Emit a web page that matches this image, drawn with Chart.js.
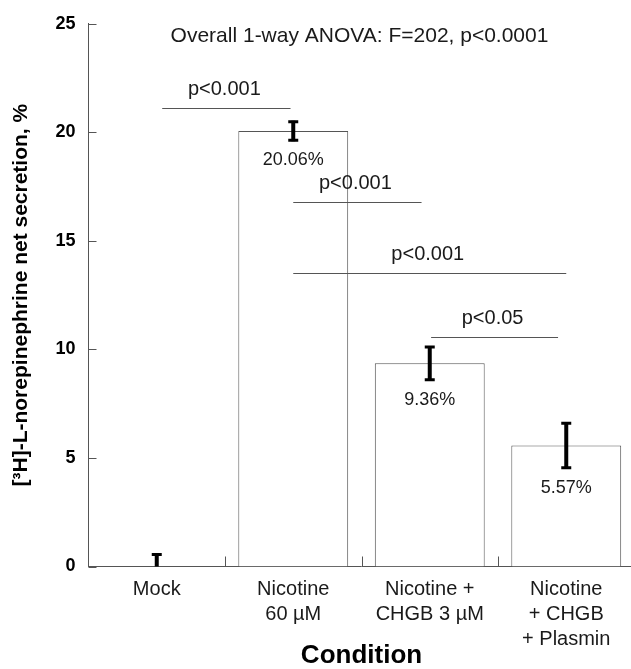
<!DOCTYPE html>
<html>
<head>
<meta charset="utf-8">
<script src="https://cdn.jsdelivr.net/npm/chart.js@4.4.1/dist/chart.umd.min.js"></script>
<style>
  html, body { margin: 0; padding: 0; background: #fff; }
  #wrap { width: 631px; height: 669px; overflow: hidden; }
  canvas { display: block; }
</style>
</head>
<body>
<div id="wrap"><canvas id="secretionChart" width="636" height="669"></canvas></div>
<script>
// data
const conditions = [['Mock'], ['Nicotine', '60 µM'], ['Nicotine +', 'CHGB 3 µM'], ['Nicotine', '+ CHGB', '+ Plasmin']];
const secretion = [0, 20.06, 9.36, 5.57];
const secretionErr = [0.6, 0.47, 0.8, 1.07];
const valueLabels = ['', '20.06%', '9.36%', '5.57%'];
const yMax = 25;
const yStep = 5;

// pairwise comparisons: category span (in category units) and bracket height (in %)
const sigFrom = [0.04, 1, 1, 2.01];
const sigTo = [0.98, 1.94, 3, 2.94];
const sigLevel = [21.1, 16.8, 13.5, 10.55];
const sigText = ['p<0.001', 'p<0.001', 'p<0.001', 'p<0.05'];

const anovaText = 'Overall 1-way ANOVA: F=202, p<0.0001';

const FONT = 'Liberation Sans, Arial, sans-serif';
const AXIS_GREY = '#555555';
const INK = '#1a1a1a';

Chart.defaults.font.family = FONT;
Chart.defaults.color = INK;

const annotations = {
    id: 'annotations',
    afterDraw(chart) {
        const { ctx, chartArea, scales: { x, y } } = chart;
        ctx.save();

        // inward tick marks on both axes
        ctx.strokeStyle = AXIS_GREY;
        ctx.lineWidth = 1;
        ctx.beginPath();
        for (let v = 0; v <= yMax; v += yStep) {
            const py = Math.round(y.getPixelForValue(v)) + 0.5;
            ctx.moveTo(chartArea.left, py);
            ctx.lineTo(chartArea.left + 8, py);
        }
        for (let i = 1; i <= conditions.length; i++) {
            const px = Math.round(x.getPixelForValue(i - 0.5)) + 0.5;
            ctx.moveTo(px, chartArea.bottom);
            ctx.lineTo(px, chartArea.bottom - 10);
        }
        ctx.stroke();

        // error bars, clipped to the plot
        ctx.save();
        ctx.beginPath();
        ctx.rect(chartArea.left, chartArea.top, chartArea.right - chartArea.left, chartArea.bottom - chartArea.top);
        ctx.clip();
        ctx.strokeStyle = '#000';
        secretion.forEach((v, i) => {
            const px = x.getPixelForValue(i);
            const top = y.getPixelForValue(v + secretionErr[i]);
            const bot = y.getPixelForValue(v - secretionErr[i]);
            ctx.lineWidth = 4;
            ctx.beginPath();
            ctx.moveTo(px, top);
            ctx.lineTo(px, bot);
            ctx.stroke();
            ctx.lineWidth = 3;
            ctx.beginPath();
            ctx.moveTo(px - 5, top + 1);
            ctx.lineTo(px + 5, top + 1);
            ctx.moveTo(px - 5, bot - 1);
            ctx.lineTo(px + 5, bot - 1);
            ctx.stroke();
        });
        ctx.restore();

        // value labels under the error bars
        ctx.fillStyle = INK;
        ctx.textAlign = 'center';
        ctx.textBaseline = 'middle';
        ctx.font = '18px ' + FONT;
        valueLabels.forEach((label, i) => {
            if (!label) return;
            const bot = y.getPixelForValue(secretion[i] - secretionErr[i]);
            ctx.fillText(label, x.getPixelForValue(i), bot + 19);
        });

        // significance brackets
        ctx.font = '20px ' + FONT;
        ctx.strokeStyle = AXIS_GREY;
        ctx.lineWidth = 1;
        sigText.forEach((text, i) => {
            const x1 = x.getPixelForValue(sigFrom[i]);
            const x2 = x.getPixelForValue(sigTo[i]);
            const py = Math.round(y.getPixelForValue(sigLevel[i])) + 0.5;
            ctx.beginPath();
            ctx.moveTo(x1, py);
            ctx.lineTo(x2, py);
            ctx.stroke();
            ctx.fillText(text, (x1 + x2) / 2 - 2, py - 19);
        });

        // overall test, inside the plot area
        ctx.font = '21px ' + FONT;
        ctx.fillText(anovaText, (chartArea.left + chartArea.right) / 2 - 2, chartArea.top + 12);

        ctx.restore();
    }
};

new Chart(document.getElementById('secretionChart'), {
    type: 'bar',
    data: {
        labels: conditions,
        datasets: [{
            data: secretion,
            backgroundColor: '#ffffff',
            borderColor: AXIS_GREY,
            borderWidth: 1,
            barPercentage: 0.805,
            categoryPercentage: 1
        }]
    },
    options: {
        responsive: false,
        animation: false,
        devicePixelRatio: 1,
        layout: { padding: { top: 18.5, right: 1.5, left: 0, bottom: 0 } },
        plugins: {
            legend: { display: false },
            tooltip: { enabled: false }
        },
        scales: {
            x: {
                grid: { display: false, drawTicks: false },
                border: { color: AXIS_GREY, width: 1 },
                ticks: {
                    color: INK,
                    font: { size: 20, lineHeight: 1.25 },
                    padding: 10,
                    maxRotation: 0,
                    autoSkip: false
                },
                title: {
                    display: true,
                    text: 'Condition',
                    color: '#000',
                    font: { size: 26, weight: 'bold', lineHeight: 1 },
                    padding: { top: 0, bottom: 0 }
                },
                afterFit: s => { s.height = 102.5; }
            },
            y: {
                min: 0,
                max: yMax,
                grid: { display: false, drawTicks: false },
                border: { color: AXIS_GREY, width: 1 },
                ticks: {
                    stepSize: yStep,
                    color: '#000',
                    font: { size: 18, weight: 'bold' },
                    padding: 13
                },
                title: {
                    display: true,
                    text: '[³H]-L-norepinephrine net secretion, %',
                    color: '#000',
                    font: { size: 21, weight: 'bold', lineHeight: 1.2 },
                    padding: { top: 9, bottom: 0 }
                },
                afterFit: s => { s.width = 88.5; }
            }
        }
    },
    plugins: [annotations]
});
</script>
</body>
</html>
